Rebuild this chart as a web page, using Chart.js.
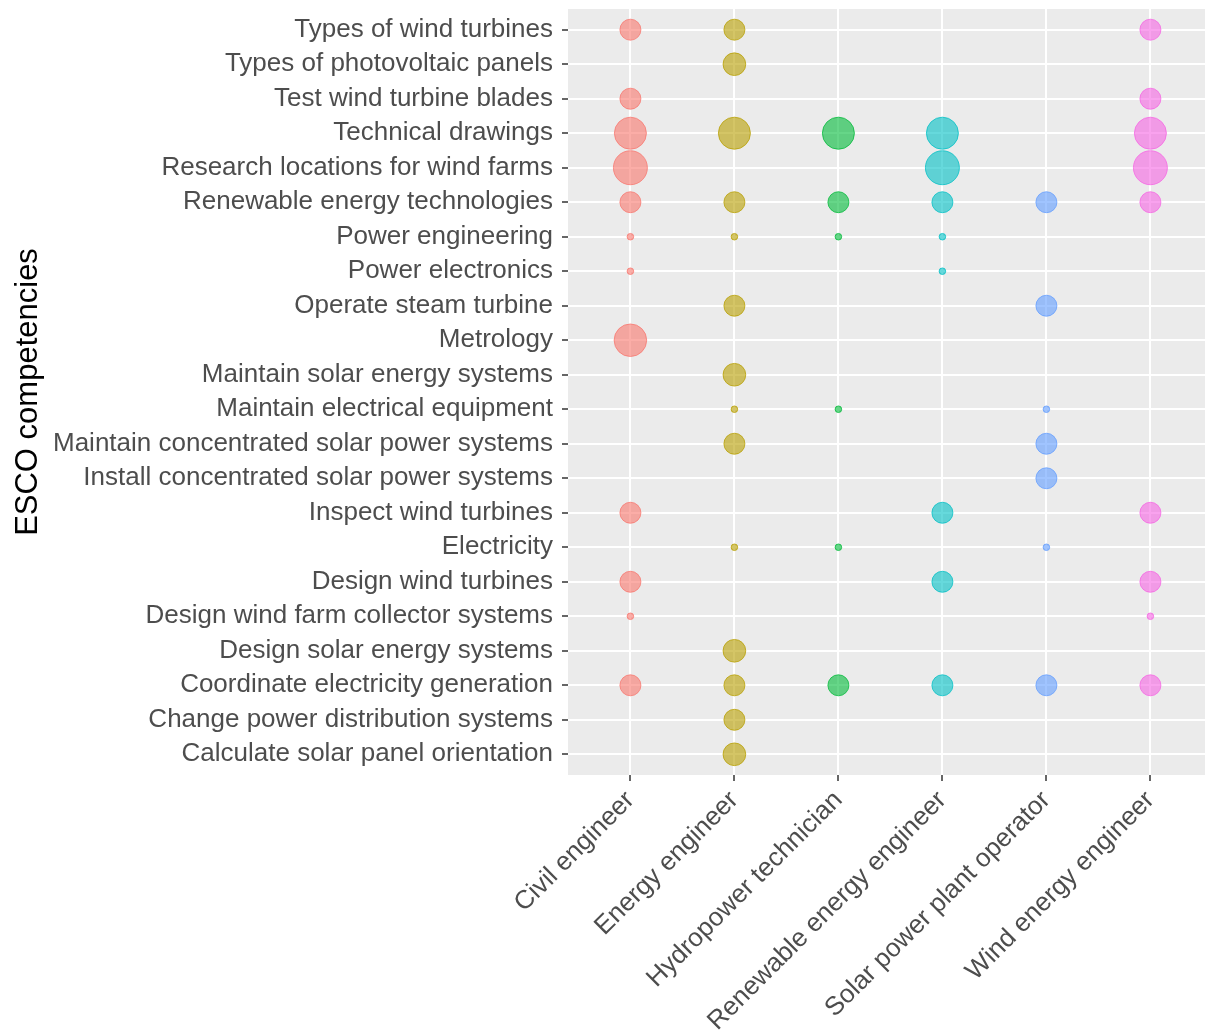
<!DOCTYPE html>
<html>
<head>
<meta charset="utf-8">
<title>ESCO competencies by occupation</title>
<script src="https://cdn.jsdelivr.net/npm/chart.js@4.4.0/dist/chart.umd.min.js"></script>
<style>
  html, body { margin: 0; padding: 0; background: #fff; overflow: hidden; }
  #wrap { width: 1205px; height: 1030px; position: relative; }
  canvas { display: block; }
</style>
</head>
<body>
<div id="wrap"><canvas id="bubbles"></canvas></div>
<script>
// Competencies, listed top to bottom as on the y axis
const competencies = [
  'Types of wind turbines',
  'Types of photovoltaic panels',
  'Test wind turbine blades',
  'Technical drawings',
  'Research locations for wind farms',
  'Renewable energy technologies',
  'Power engineering',
  'Power electronics',
  'Operate steam turbine',
  'Metrology',
  'Maintain solar energy systems',
  'Maintain electrical equipment',
  'Maintain concentrated solar power systems',
  'Install concentrated solar power systems',
  'Inspect wind turbines',
  'Electricity',
  'Design wind turbines',
  'Design wind farm collector systems',
  'Design solar energy systems',
  'Coordinate electricity generation',
  'Change power distribution systems',
  'Calculate solar panel orientation'
];

const occupations = [
  'Civil engineer',
  'Energy engineer',
  'Hydropower technician',
  'Renewable energy engineer',
  'Solar power plant operator',
  'Wind energy engineer'
];

// bubble size per competency (same order as above), null = not linked
const civilEngineer      = [9, null, 9, 26, 30, 9, 1, 1, null, 27, null, null, null, null, 9, null, 9, 1, null, 9, null, null];
const energyEngineer     = [9, 11, null, 26, null, 9, 1, null, 9, null, 11, 1, 9, null, null, 1, null, null, 11, 9, 9, 11];
const hydroTechnician    = [null, null, null, 26, null, 9, 1, null, null, null, null, 1, null, null, null, 1, null, null, null, 9, null, null];
const renewableEngineer  = [null, null, null, 26, 30, 9, 1, 1, null, null, null, null, null, null, 9, null, 9, null, null, 9, null, null];
const solarOperator      = [null, null, null, null, null, 9, null, null, 9, null, null, 1, 9, 9, null, 1, null, null, null, 9, null, null];
const windEngineer       = [9, null, 9, 26, 30, 9, null, null, null, null, null, null, null, null, 9, null, 9, 1, null, 9, null, null];

const series = [civilEngineer, energyEngineer, hydroTechnician, renewableEngineer, solarOperator, windEngineer];
const colors = ['#F8766D', '#B79F00', '#00BA38', '#00BFC4', '#619CFF', '#F564E3'];

const allValues = series.flat().filter(v => v !== null);
const vMin = Math.min(...allValues);
const vMax = Math.max(...allValues);

// ggplot-like area scale: radius grows with sqrt of value
function radius(v) {
  const rMin = 3.3, rMax = 17;
  return rMin + (rMax - rMin) * Math.sqrt((v - vMin) / (vMax - vMin));
}

function alpha(hex, a) {
  const n = parseInt(hex.slice(1), 16);
  return `rgba(${(n >> 16) & 255}, ${(n >> 8) & 255}, ${n & 255}, ${a})`;
}

const datasets = occupations.map((occ, i) => ({
  label: occ,
  data: series[i]
    .map((v, row) => v === null ? null : { x: i, y: row, r: radius(v) })
    .filter(p => p !== null),
  backgroundColor: alpha(colors[i], 0.6),
  borderColor: alpha(colors[i], 0.75),
  borderWidth: 1
}));

// grey panel behind the points
const panelBackground = {
  id: 'panelBackground',
  beforeDraw(chart) {
    const { ctx, chartArea } = chart;
    ctx.save();
    ctx.fillStyle = '#EBEBEB';
    ctx.fillRect(chartArea.left, chartArea.top, chartArea.right - chartArea.left, chartArea.bottom - chartArea.top);
    ctx.restore();
  }
};

const tickFont = { family: '"Liberation Sans", Arial, sans-serif', size: 26 };

new Chart(document.getElementById('bubbles'), {
  type: 'bubble',
  data: { datasets },
  plugins: [panelBackground],
  options: {
    responsive: true,
    maintainAspectRatio: false,
    animation: false,
    layout: { autoPadding: false, padding: { top: 9, right: 0, bottom: 0, left: 0 } },
    plugins: {
      legend: { display: false },
      tooltip: { enabled: false }
    },
    scales: {
      x: {
        type: 'linear',
        min: -0.6,
        max: 5.525,
        afterBuildTicks: scale => {
          scale.ticks = occupations.map((_, i) => ({ value: i }));
        },
        afterFit: scale => {
          scale.height = 255;
          scale.paddingLeft = 0;
          scale.paddingRight = 0;
        },
        grid: {
          color: '#FFFFFF',
          lineWidth: 2,
          tickColor: '#333333',
          tickWidth: 1.5,
          tickLength: 6
        },
        border: { display: false },
        ticks: {
          autoSkip: false,
          minRotation: 45,
          maxRotation: 45,
          padding: 4,
          color: '#4D4D4D',
          font: tickFont,
          callback: v => occupations[v]
        }
      },
      y: {
        type: 'linear',
        reverse: true,
        min: -0.6,
        max: 21.6,
        afterBuildTicks: scale => {
          scale.ticks = competencies.map((_, i) => ({ value: i }));
        },
        afterFit: scale => {
          scale.width = 568;
          scale.paddingTop = 0;
          scale.paddingBottom = 0;
        },
        grid: {
          color: '#FFFFFF',
          lineWidth: 2,
          tickColor: '#333333',
          tickWidth: 1.5,
          tickLength: 6
        },
        border: { display: false },
        ticks: {
          autoSkip: false,
          padding: 9,
          color: '#4D4D4D',
          font: tickFont,
          callback: v => competencies[v]
        },
        title: {
          display: true,
          text: 'ESCO competencies',
          color: '#000000',
          font: { family: '"Liberation Sans", Arial, sans-serif', size: 31 },
          padding: { top: 10, bottom: 0 }
        }
      }
    }
  }
});
</script>
</body>
</html>
